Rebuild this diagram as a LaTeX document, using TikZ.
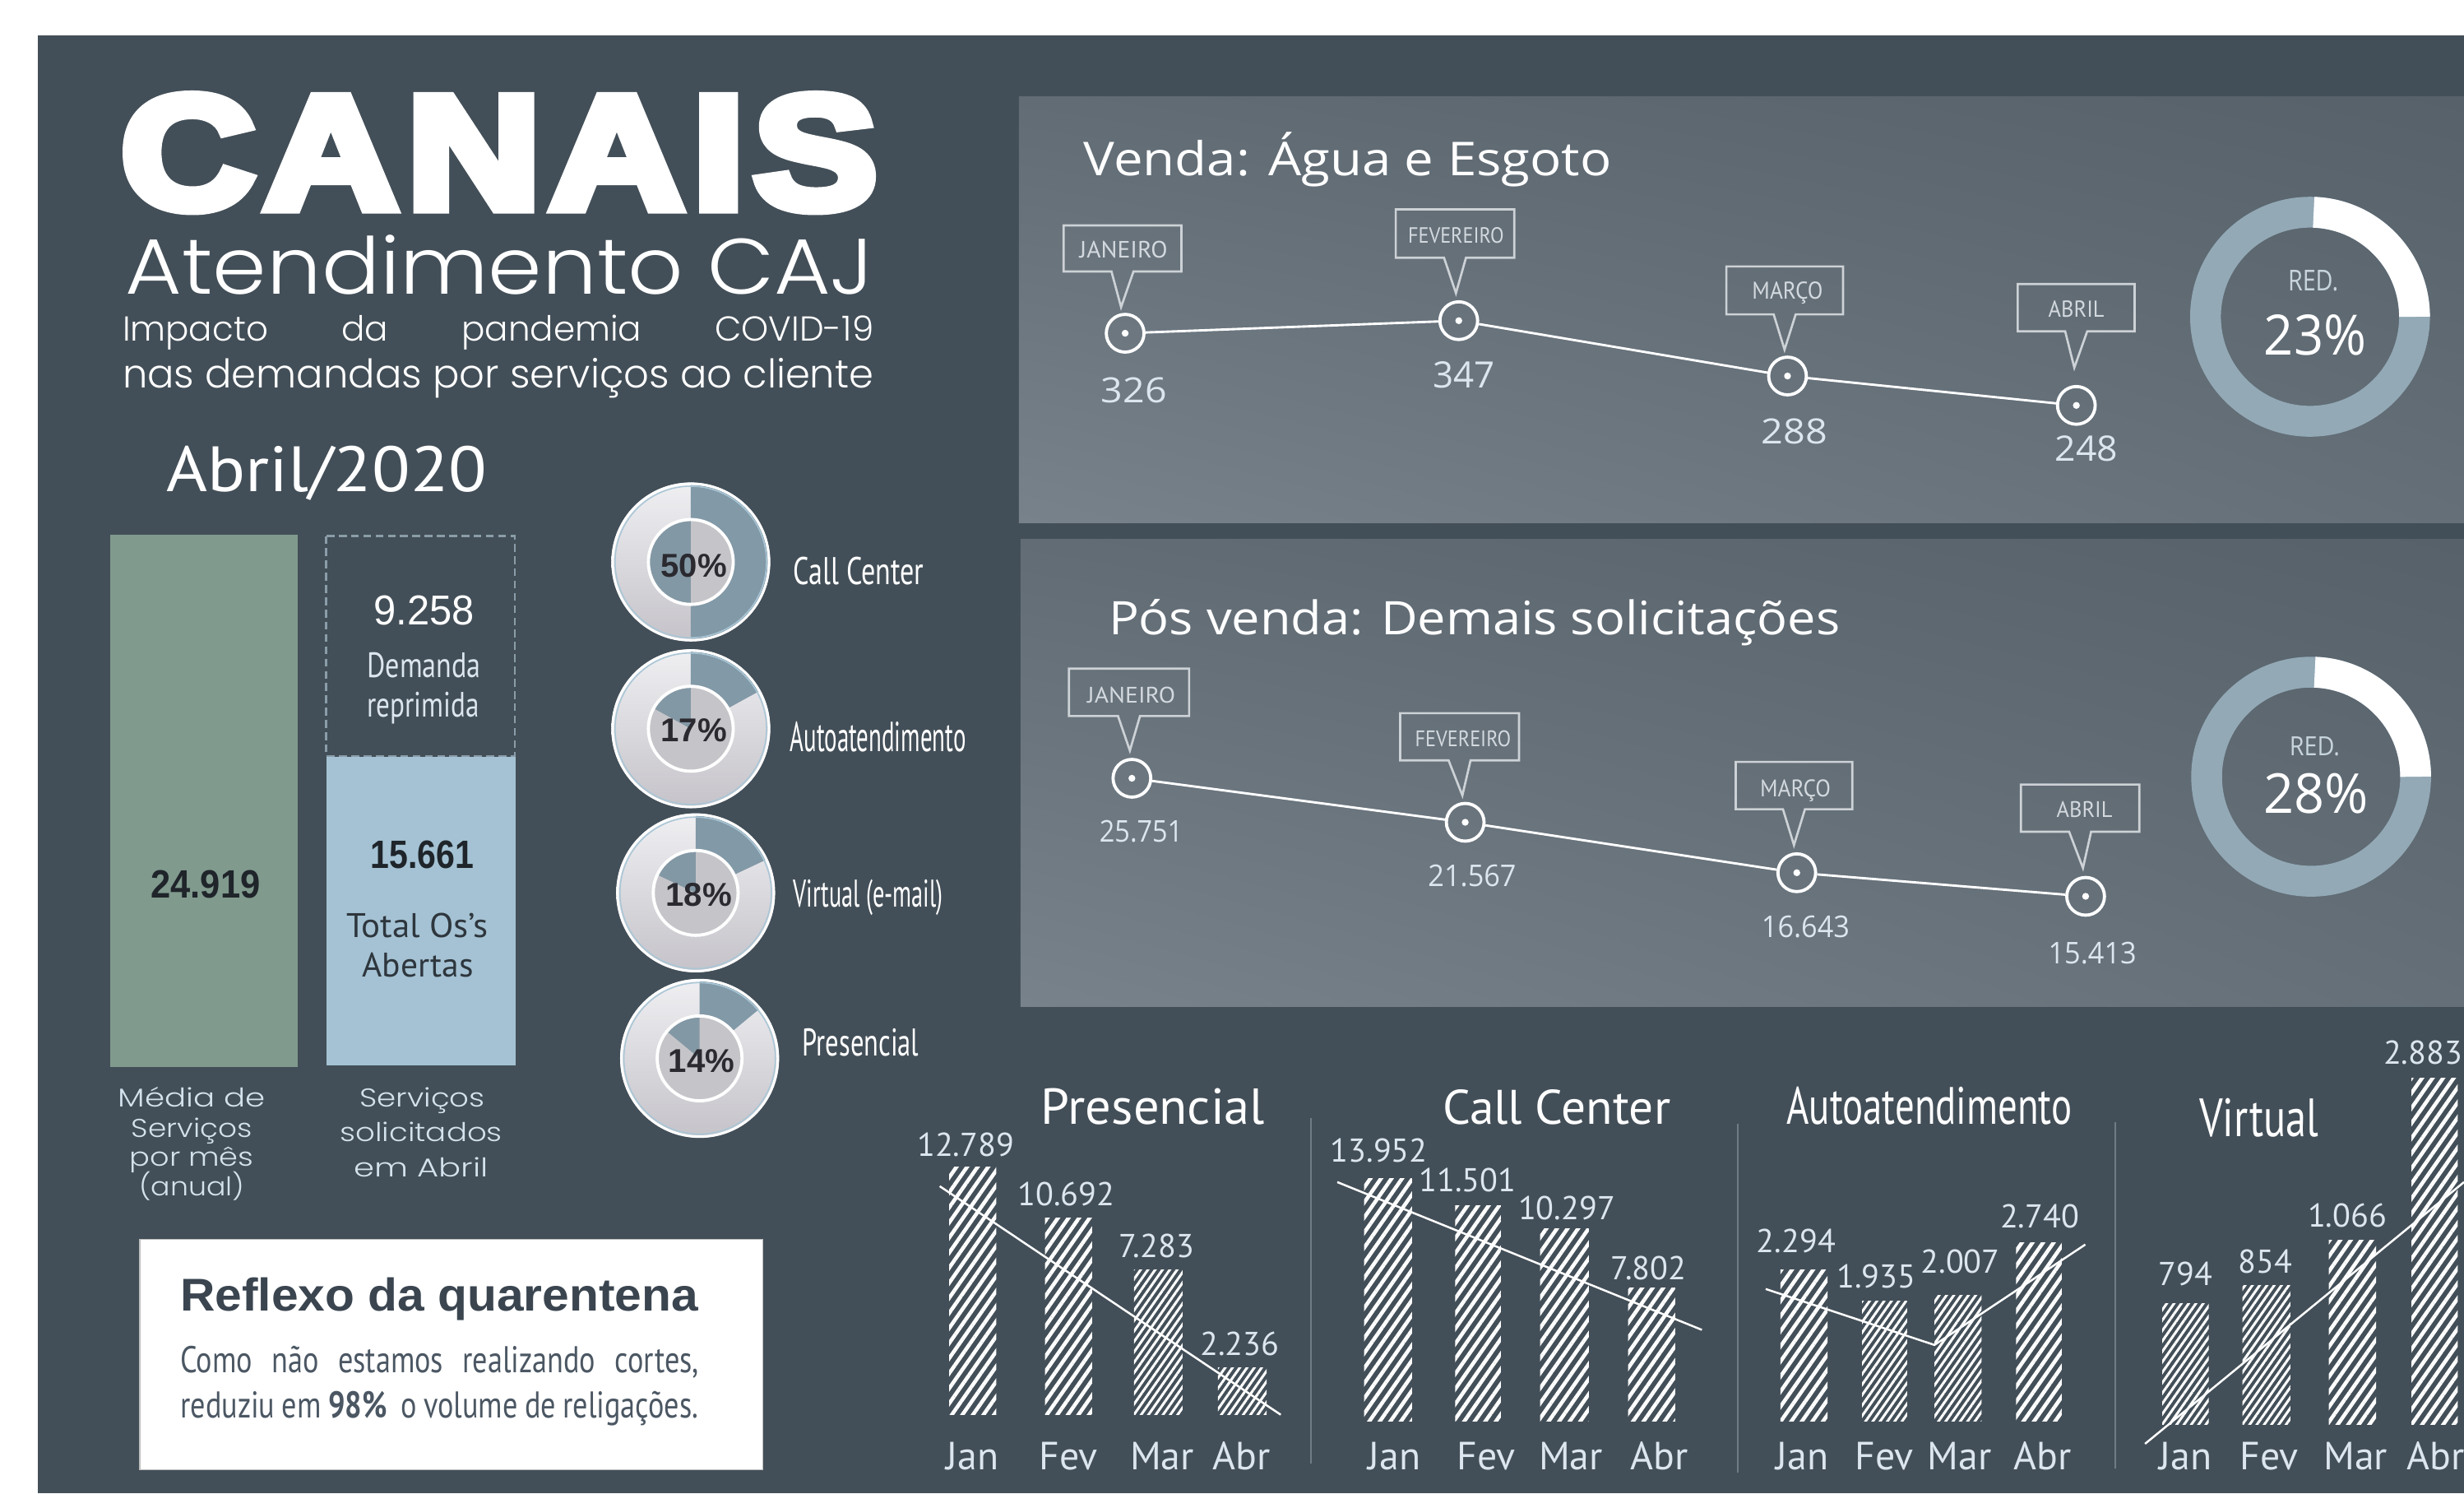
\documentclass[tikz,border=0pt]{standalone}
\usepackage{fontspec}
\usetikzlibrary{patterns.meta,shadings}
\setmainfont{PT Sans}
\newfontfamily\geo{Poppins Light}
\newfontfamily\heavy{Liberation Sans}[BoldFeatures={FakeBold=6.5,LetterSpace=5}]
\newfontfamily\arial{Liberation Sans}
\newfontfamily\cnd{PT Sans}
\newfontfamily\cndb{PT Sans}[FakeStretch=0.8]
\newfontfamily\osans{Open Sans}
\newcommand\fitt[3]{\resizebox{#1pt}{#2pt}{\raisebox{0pt}[\fontcharht\font`H][0pt]{#3}}}
\definecolor{bgc}{HTML}{434F58}
\definecolor{pul}{HTML}{616C75}
\definecolor{pur}{HTML}{56616A}
\definecolor{pll}{HTML}{77828B}
\definecolor{plr}{HTML}{646F78}
\definecolor{gbar}{HTML}{809A8E}
\definecolor{bbar}{HTML}{A4C2D3}
\definecolor{dashc}{HTML}{8A9DA9}
\definecolor{ringc}{HTML}{93A9B6}
\definecolor{gblue}{HTML}{8299A7}
\definecolor{gblue2}{HTML}{8398A5}
\definecolor{ginner}{HTML}{C5C5C9}
\definecolor{silvT}{HTML}{EFEFF2}
\definecolor{silvB}{HTML}{C5C3C9}
\definecolor{gring}{HTML}{A9C6D6}
\definecolor{txtl}{HTML}{DCE6EE}
\definecolor{lbl}{HTML}{D3E2EC}
\definecolor{dark}{HTML}{1F252A}
\definecolor{darktxt}{HTML}{2E363D}
\definecolor{pctc}{HTML}{2A2A30}
\definecolor{refl}{HTML}{3A4550}
\definecolor{reflb}{HTML}{4B5763}
\definecolor{callc}{HTML}{CDD2D6}
\definecolor{calltxt}{HTML}{D3D9DE}
\definecolor{sepc}{HTML}{6F7C86}
\definecolor{redc}{HTML}{C9D5DD}
\newcommand\gauge[3]{%
  \shade[top color=silvT,bottom color=silvB] (#1,#2) circle[radius=50.5];
  \fill[gblue] (#1,#2) -- ++(-90:49) arc[start angle=-90,end angle={-90+360*#3},radius=49] -- cycle;
  \draw[white,line width=1.6pt] (#1,#2) circle[radius=49.8];
  \draw[gring,line width=0.8pt] (#1,#2) circle[radius=48.2];
  \fill[ginner] (#1,#2) circle[radius=27];
  \fill[gblue2] (#1,#2) -- ++(-90:27) arc[start angle=-90,end angle={-90-360*#3},radius=27] -- cycle;
  \draw[white,line width=2pt] (#1,#2) circle[radius=27];
}
\newcommand\mycallout[6]{\draw[callbox] ({(#1+#2)/2+7},#4) -- (#2,#4) -- (#2,#3) -- (#1,#3) -- (#1,#4) -- ({(#1+#2)/2-7},#4) -- (#5,#6) -- cycle;}
\newcommand\bigring[2]{%
  \draw[ringc,line width=19.6pt] (#1,#2) circle[radius=66.5];
  \draw[white,line width=19.6pt] (#1,#2) ++(-88:66.5) arc[start angle=-88,end angle=0,radius=66.5];
}
\begin{document}
\begin{tikzpicture}[x=1pt,y=-1pt,
  txt/.style={inner sep=0pt,outer sep=0pt},
  wl/.style={txt,anchor=base west},
  cb/.style={txt,anchor=base},
  marker/.style={circle,draw=white,line width=2pt,minimum size=24pt,inner sep=0pt,
    path picture={\fill[white] (path picture bounding box.center) circle[radius=2.2];}},
  callbox/.style={draw=callc,line width=1.4pt,line join=miter},
  conn/.style={white,line width=1.5pt},
  trend/.style={white,line width=1.3pt},
  hatch/.style={pattern={Lines[angle=55,distance=5.5pt,line width=2.4pt]},pattern color=white},
  hatchd/.style={pattern={Lines[angle=55,distance=3.8pt,line width=1.6pt]},pattern color=white},
  sepl/.style={draw=sepc,line width=1pt},
  calltext/.style={cb,font=\cnd,calltxt},
  val/.style={wl,font=\osans,txtl},
  bval/.style={cb,font={\cnd\fontsize{21}{21}\selectfont},txtl},
  month/.style={cb,font={\cnd\fontsize{25}{25}\selectfont},txtl},
  pct/.style={cb,font={\arial\bfseries\fontsize{21}{21}\selectfont},pctc},
  glab/.style={wl,font=\cnd,white},
  blab/.style={cb,font=\geo,lbl}]
\useasboundingbox (0,0) rectangle (1568,950);
\fill[white] (0,0) rectangle (1568,950);
\fill[bgc] (24,22.3) rectangle (1568,950);

% ---------- title ----------
\node[wl,font=\heavy\bfseries,white] (canais) at (77,132.5) {\fitt{481}{70.5}{CANAIS}};
\node[wl,font=\geo,white] (atend) at (80,187) {\fitt{476}{35}{Atendimento CAJ}};
\node[wl,font={\geo\fontsize{22}{24}\selectfont},white] (imp1) at (78,217) {\makebox[478pt][s]{Impacto da pandemia COVID-19}};
\node[wl,font={\geo\fontsize{22}{24}\selectfont},white] (imp2) at (78,247) {\resizebox{478pt}{!}{nas demandas por serviços ao cliente}};
\node[wl,font=\cnd,white] (abril) at (106,312.5) {\fitt{204}{28.5}{Abril/2020}};

% ---------- bars ----------
\fill[gbar] (70.3,340) rectangle (189.5,679);
\draw[dashc,line width=1.5pt,dash pattern=on 5pt off 2.8pt] (207.6,341) rectangle (327.6,481);
\fill[bbar] (207.7,481.5) rectangle (328.2,678);
\node[wl,font=\arial\bfseries,dark] (n24) at (96,571.3) {\fitt{69.6}{17.3}{24.919}};
\node[wl,font=\arial\bfseries,dark] (n15) at (235.7,552.6) {\fitt{65.7}{17.3}{15.661}};
\node[wl,font=\arial,white] (n9) at (238,397.7) {\fitt{64}{18.3}{9.258}};
\node[wl,font=\cnd,txtl] (dem1) at (233.7,430.8) {\fitt{72.3}{15.7}{Demanda}};
\node[wl,font=\cnd,txtl] (dem2) at (233.7,456) {\fitt{71.3}{15.7}{reprimida}};
\node[wl,font=\cnd,darktxt] (tot1) at (220.4,596.6) {\fitt{90.2}{15.2}{Total Os’s}};
\node[wl,font=\cnd,darktxt] (tot2) at (230.5,621.5) {\fitt{70.9}{15.2}{Abertas}};
\node[blab] (l1a) at (122,704) {\fitt{93.5}{11.5}{Média de}};
\node[blab] (l1b) at (122,723.4) {\fitt{76.8}{11.5}{Serviços}};
\node[blab] (l1c) at (122,742) {\fitt{79}{11.5}{por mês}};
\node[blab] (l1d) at (122,760.7) {\fitt{67}{11.5}{(anual)}};
\node[blab] (l2a) at (268.8,704) {\fitt{79.6}{11.5}{Serviços}};
\node[blab] (l2b) at (268.1,726.4) {\fitt{103.2}{11.5}{solicitados}};
\node[blab] (l2c) at (268,748.7) {\fitt{85.3}{11.5}{em Abril}};

% ---------- gauges ----------
\gauge{439.6}{357.5}{0.5}
\gauge{439.6}{463.6}{0.17}
\gauge{442.7}{568}{0.18}
\gauge{445.2}{673.3}{0.14}
\node[pct] (g1) at (441.6,367.2) {50\%};
\node[pct] (g2) at (441.6,472) {17\%};
\node[pct] (g3) at (444.7,576.5) {18\%};
\node[pct] (g4) at (446.5,682) {14\%};
\node[glab] (g1l) at (504.8,371.8) {\fitt{83.2}{17.2}{Call Center}};
\node[glab] (g2l) at (502.7,478) {\fitt{112}{18.7}{Autoatendimento}};
\node[glab] (g3l) at (504.8,577) {\fitt{95.2}{17.2}{Virtual (e-mail)}};
\node[glab] (g4l) at (510.7,671.7) {\fitt{74.1}{17.2}{Presencial}};

% ---------- reflexo ----------
\filldraw[fill=white,draw=black!25,line width=0.8pt] (89,788.4) rectangle (485.5,935);
\node[wl,font=\arial\bfseries,refl] (reft) at (114.8,833.8) {\fitt{329.6}{20.1}{Reflexo da quarentena}};
\node[wl,font={\cndb\fontsize{23.7}{24}\selectfont},reflb] (ref1) at (114.8,873) {\makebox[330pt][s]{Como não estamos realizando cortes,}};
\node[wl,font={\cndb\fontsize{23.7}{24}\selectfont},reflb] (ref2) at (114.8,901.8) {\makebox[329.6pt][s]{reduziu em \textbf{98\%}\ \ o volume de religações.}};

% ---------- panel 1 ----------
\shade[upper left=pul,upper right=pur,lower left=pll,lower right=plr] (648.4,61.7) rectangle (1568,332.7);
\node[wl,font=\osans,white] (vt) at (689.6,111.8) {\fitt{336}{21.2}{Venda: Água e Esgoto}};
\mycallout{676.8}{751.8}{143.4}{172.7}{713.4}{195.4}
\mycallout{888.2}{963.6}{133.2}{163.9}{926.5}{186.5}
\mycallout{1098.6}{1172.8}{169.5}{200}{1135.6}{222.4}
\mycallout{1284}{1358.4}{180.7}{210.8}{1320}{233.9}
\node[calltext] (vj) at (715,164) {\fitt{56}{10.5}{JANEIRO}};
\node[calltext] (vf) at (926.5,154.7) {\fitt{61}{9.8}{FEVEREIRO}};
\node[calltext] (vm) at (1137.5,190.2) {\fitt{45}{10.8}{MARÇO}};
\node[calltext] (va) at (1321.3,201.8) {\fitt{35.5}{10.3}{ABRIL}};
\node[marker] (v1) at (716,212) {};
\node[marker] (v2) at (928.3,204) {};
\node[marker] (v3) at (1137.5,239.2) {};
\node[marker] (v4) at (1321.3,257.9) {};
\draw[conn] (v1) -- (v2);
\draw[conn] (v2) -- (v3);
\draw[conn] (v3) -- (v4);
\node[val] (v1n) at (700.7,256) {\fitt{41.8}{15.8}{326}};
\node[val] (v2n) at (911.8,246.7) {\fitt{39.4}{16.5}{347}};
\node[val] (v3n) at (1121,282.2) {\fitt{42}{15.8}{288}};
\node[val] (v4n) at (1307.7,293.4) {\fitt{40}{15.9}{248}};
\bigring{1470}{201.5}
\node[wl,font=\osans,redc] (r1) at (1456,184.9) {\fitt{32}{13.1}{RED.}};
\node[wl,font=\osans,white] (r1p) at (1440.8,225.9) {\fitt{65}{25.3}{23\%}};

% ---------- panel 2 ----------
\shade[upper left=pul,upper right=pur,lower left=pll,lower right=plr] (649.4,342.9) rectangle (1568,640.3);
\node[wl,font=\osans,white] (pt) at (705.5,404) {\fitt{465.5}{21}{Pós venda: Demais solicitações}};
\mycallout{680.2}{756.7}{425.4}{455.5}{719}{477.5}
\mycallout{891}{966.6}{453.7}{483.7}{930.6}{506}
\mycallout{1104.5}{1178.7}{484.7}{514.8}{1141.6}{537.6}
\mycallout{1286}{1361.4}{499.1}{529.1}{1325.5}{552.2}
\node[calltext] (pj) at (720,447) {\fitt{56}{10}{JANEIRO}};
\node[calltext] (pf) at (931,475.1) {\fitt{61}{10}{FEVEREIRO}};
\node[calltext] (pm) at (1142.5,506.7) {\fitt{45}{10.7}{MARÇO}};
\node[calltext] (pa) at (1326.5,520.2) {\fitt{35.5}{10}{ABRIL}};
\node[marker] (p1) at (720.3,495.1) {};
\node[marker] (p2) at (932.4,523.1) {};
\node[marker] (p3) at (1143.4,555.2) {};
\node[marker] (p4) at (1327.2,570.2) {};
\draw[conn] (p1) -- (p2);
\draw[conn] (p2) -- (p3);
\draw[conn] (p3) -- (p4);
\node[val] (p1n) at (699.7,535.8) {\fitt{53}{13.6}{25.751}};
\node[val] (p2n) at (908.8,563.8) {\fitt{56}{13.6}{21.567}};
\node[val] (p3n) at (1121,596.2) {\fitt{56}{13.6}{16.643}};
\node[val] (p4n) at (1303.5,613.3) {\fitt{56}{13.6}{15.413}};
\bigring{1470.7}{494.1}
\node[wl,font=\osans,redc] (r2) at (1457,480.7) {\fitt{32}{12}{RED.}};
\node[wl,font=\osans,white] (r2p) at (1440.3,517.1) {\fitt{66.7}{25}{28\%}};

% ---------- bottom charts ----------
\node[wl,font=\cnd,white] (tpres) at (662.5,715) {\fitt{142.5}{22.5}{Presencial}};
\node[wl,font=\cnd,white] (tcall) at (918,715) {\fitt{145}{21.6}{Call Center}};
\node[wl,font=\cnd,white] (tauto) at (1137,715) {\fitt{181.5}{23.4}{Autoatendimento}};
\node[wl,font=\cnd,white] (tvirt) at (1399.6,722.8) {\fitt{75.9}{24}{Virtual}};
\draw[sepl] (834,711) -- (834,931);
\draw[sepl] (1106,715) -- (1106,937);
\draw[sepl] (1346,714) -- (1346,934);

% Presencial
\fill[hatch] (604,742.5) rectangle (634,900);
\fill[hatch] (665,775) rectangle (695,900);
\fill[hatchd] (721.6,808) rectangle (752.5,900);
\fill[hatchd] (775,870) rectangle (806,900);
\draw[trend] (598,754.6) -- (815,900);
\node[bval] (a1) at (614.5,735.5) {12.789};
\node[bval] (a2) at (678.4,767) {10.692};
\node[bval] (a3) at (736,800) {7.283};
\node[bval] (a4) at (789,862) {2.236};
\node[month] (am1) at (619,935) {Jan};
\node[month] (am2) at (680,935) {Fev};
\node[month] (am3) at (739.5,935) {Mar};
\node[month] (am4) at (790,935) {Abr};

% Call Center
\fill[hatch] (868,749.5) rectangle (898.6,904);
\fill[hatch] (926,767) rectangle (955,904);
\fill[hatch] (980,781.5) rectangle (1011,904);
\fill[hatch] (1036,819.5) rectangle (1066,904);
\draw[trend] (851,752) -- (1083,846);
\node[bval] (b1) at (877.5,739) {13.952};
\node[bval] (b2) at (934,758) {11.501};
\node[bval] (b3) at (997,776) {10.297};
\node[bval] (b4) at (1049,814) {7.802};
\node[month] (bm1) at (887.5,935) {Jan};
\node[month] (bm2) at (945.6,935) {Fev};
\node[month] (bm3) at (999.6,935) {Mar};
\node[month] (bm4) at (1056,935) {Abr};

% Autoatendimento
\fill[hatch] (1133,808) rectangle (1163,904);
\fill[hatchd] (1185,827.5) rectangle (1213.6,904);
\fill[hatchd] (1231,824) rectangle (1261,904);
\fill[hatch] (1283,790.7) rectangle (1312,904);
\draw[trend] (1123.6,820) -- (1231,855.6) -- (1327,791.7);
\node[bval] (c1) at (1143,797) {2.294};
\node[bval] (c2) at (1194,819.5) {1.935};
\node[bval] (c3) at (1247.5,810) {2.007};
\node[bval] (c4) at (1298,781) {2.740};
\node[month] (cm1) at (1147,935) {Jan};
\node[month] (cm2) at (1199,935) {Fev};
\node[month] (cm3) at (1247,935) {Mar};
\node[month] (cm4) at (1300,935) {Abr};

% Virtual
\fill[hatchd] (1376,829.5) rectangle (1405.6,906);
\fill[hatchd] (1427,817.7) rectangle (1457.5,906);
\fill[hatch] (1482,789) rectangle (1512,906);
\fill[hatch] (1534.5,686) rectangle (1564,906);
\draw[trend] (1365,918.5) -- (1568,752);
\node[bval] (d1) at (1390.6,817.7) {794};
\node[bval] (d2) at (1441.6,810) {854};
\node[bval] (d3) at (1493.7,780.5) {1.066};
\node[bval,anchor=base east] (d4) at (1567,677) {2.883};
\node[month] (dm1) at (1391,935) {Jan};
\node[month] (dm2) at (1444,935) {Fev};
\node[month] (dm3) at (1499,935) {Mar};
\node[month] (dm4) at (1550,935) {Abr};
\end{tikzpicture}
\end{document}
